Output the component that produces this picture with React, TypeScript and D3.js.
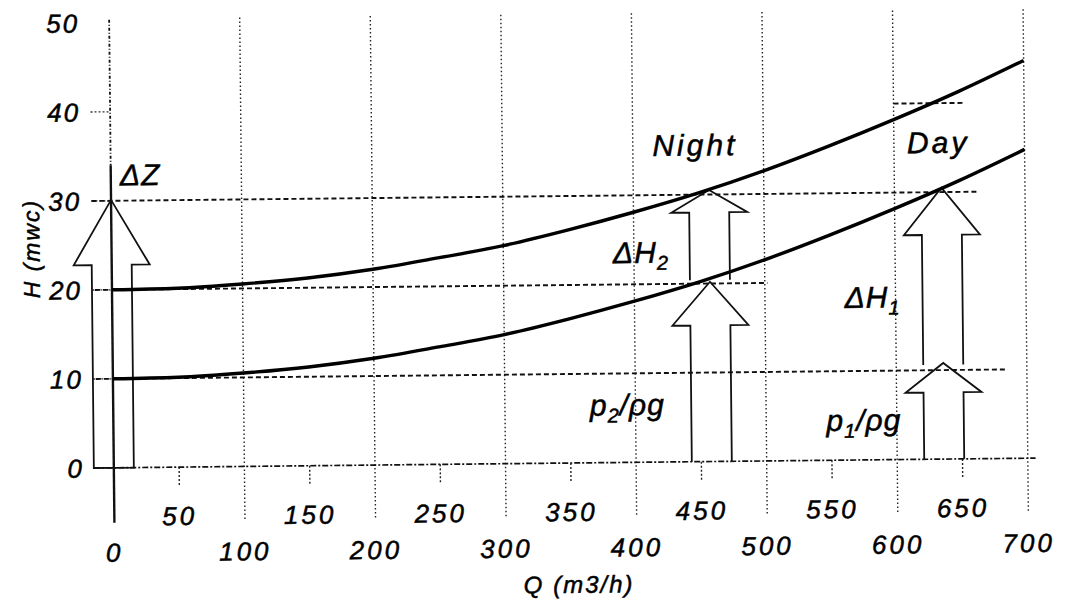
import React from 'react';
import * as d3 from 'd3';

// flow (m3/h) and head (mwc)
const flows = [0, 50, 100, 150, 200, 250, 300, 350, 400, 450, 500, 550, 600, 650, 700];
const headUpper = [20, 20.1, 20.5, 21.1, 22.0, 23.2, 24.5, 26.2, 28.1, 30.2, 32.6, 35.3, 38.2, 41.3, 44.7];
const headLower = [10, 10.1, 10.5, 11.1, 12.0, 13.2, 14.5, 16.2, 18.1, 20.2, 22.6, 25.3, 28.2, 31.3, 34.7];

const majorTicks = [0, 100, 200, 300, 400, 500, 600, 700];
const minorTicks = [50, 150, 250, 350, 450, 550, 650];
const yTicks = [0, 10, 20, 30, 40, 50];

// block arrows: centre flow, start head, tip head, head-base head
const arrows = [
  { q: 0, from: 0, to: 30.1, head: 22.8, closed: true },
  { q: 458, from: 0, to: 20.2, head: 15.3, closed: false },
  { q: 458, from: 20.4, to: 30.5, head: 28.0, closed: false },
  { q: 636, from: 0, to: 10.8, head: 7.5, closed: false },
  { q: 636, from: 10.6, to: 30.5, head: 25.2, closed: false },
];

// dashed reference levels: head, flow range
const levels = [
  { h: 30, q0: -15, q1: 663 },
  { h: 20, q0: -13, q1: 502 },
  { h: 10, q0: -13, q1: 684 },
  { h: 40, q0: 600, q1: 655 },
];

const FONT = '"Liberation Sans", Arial, sans-serif';
const INK = '#111';

export default function App() {
  const x = d3.scaleLinear().domain([0, 700]).range([112, 1026]);
  const y = d3.scaleLinear().domain([0, 50]).range([463, 18]);
  const y0 = y(0);

  const line = d3.line<number>()
    .x((_, i) => x(flows[i]))
    .y(d => y(d))
    .curve(d3.curveMonotoneX);

  const arrowPath = (a: typeof arrows[0]) => {
    const cx = x(a.q);
    const sh = 20;
    const hh = 38;
    const pts: [number, number][] = [
      [cx - sh, y(a.from)],
      [cx - sh, y(a.head)],
      [cx - hh, y(a.head)],
      [cx, y(a.to)],
      [cx + hh, y(a.head)],
      [cx + sh, y(a.head)],
      [cx + sh, y(a.from)],
    ];
    return d3.line()(pts) + (a.closed ? 'Z' : '');
  };

  const textStyle = {
    fontFamily: FONT,
    fontStyle: 'italic' as const,
    fill: '#000',
    stroke: '#000',
    strokeWidth: 0.5,
  };

  return (
    <svg
      width={1070}
      height={601}
      style={{ position: 'absolute', left: 0, top: 0, background: '#fff' }}
    >
      <rect width={1070} height={601} fill="#fff" />
      <g transform="rotate(-0.6 570 290)">
        {/* vertical grid */}
        {majorTicks.filter(t => t > 0).map(t => (
          <line key={'g' + t} x1={x(t)} x2={x(t)} y1={14} y2={y0 + 54}
            stroke="#222" strokeWidth={1.4} strokeDasharray="1.5 2.5" />
        ))}
        {/* y axis */}
        <line x1={x(0)} x2={x(0)} y1={15} y2={y(34)} stroke={INK} strokeWidth={1.8} strokeDasharray="3 2 1 2" />
        <line x1={x(0)} x2={x(0)} y1={y(34)} y2={y0 + 55} stroke={INK} strokeWidth={2.4} />

        {/* minor ticks */}
        {minorTicks.map(t => (
          <line key={'m' + t} x1={x(t)} x2={x(t)} y1={y0} y2={y0 + 18}
            stroke="#222" strokeWidth={1.4} strokeDasharray="2 2" />
        ))}
        {/* small y ticks */}
        {yTicks.filter(t => t > 0 && t < 50).map(t => (
          <line key={'yt' + t} x1={x(-15)} x2={x(0)} y1={y(t)} y2={y(t)}
            stroke="#333" strokeWidth={1.3} strokeDasharray="2 2" />
        ))}

        {/* x axis */}
        <line x1={x(-15)} x2={x(706)} y1={y0} y2={y0} stroke={INK} strokeWidth={1.7} strokeDasharray="6 2 2 2" />

        {/* reference levels */}
        {levels.map((l, i) => (
          <line key={'l' + i} x1={x(l.q0)} x2={x(l.q1)} y1={y(l.h)} y2={y(l.h)}
            stroke={INK} strokeWidth={1.9} strokeDasharray="5 3" />
        ))}

        {/* arrows */}
        {arrows.map((a, i) => (
          <path key={'a' + i} d={arrowPath(a)} fill="none" stroke={INK} strokeWidth={1.8} />
        ))}

        {/* system curves */}
        <path d={line(headUpper) || ''} fill="none" stroke="#000" strokeWidth={3.4} />
        <path d={line(headLower) || ''} fill="none" stroke="#000" strokeWidth={3.4} />

        {/* tick labels */}
        {yTicks.map(t => (
          <text key={'yl' + t} x={x(0) - 30} y={y(t)} dy="0.36em" textAnchor="end"
            fontSize={26} letterSpacing={2} style={textStyle}>{t}</text>
        ))}
        {majorTicks.map(t => (
          <text key={'xl' + t} x={x(t)} y={y0 + 94} textAnchor="middle"
            fontSize={26} letterSpacing={3} style={textStyle}>{t}</text>
        ))}
        {minorTicks.map(t => (
          <text key={'xm' + t} x={x(t)} y={y0 + 58} textAnchor="middle"
            fontSize={26} letterSpacing={3} style={textStyle}>{t}</text>
        ))}

        {/* axis titles */}
        <text x={576} y={593} textAnchor="middle" fontSize={24} letterSpacing={2} style={textStyle}>Q (m3/h)</text>
        <text transform="translate(40,243) rotate(-90)" textAnchor="middle" fontSize={23} letterSpacing={2} style={textStyle}>H (mwc)</text>

        {/* annotations */}
        <text x={x(7)} y={y(31.7)} fontSize={30} letterSpacing={1} style={textStyle}>ΔZ</text>
        <text x={x(415)} y={y(34.4)} fontSize={30} letterSpacing={3} style={textStyle}>Night</text>
        <text x={x(610)} y={y(34.4)} fontSize={30} letterSpacing={3} style={textStyle}>Day</text>
        <text x={x(384)} y={y(22.4)} fontSize={30} letterSpacing={1} style={textStyle}>
          ΔH<tspan fontSize={20} dy={7}>2</tspan>
        </text>
        <text x={x(561)} y={y(17.1)} fontSize={30} letterSpacing={1} style={textStyle}>
          ΔH<tspan fontSize={20} dy={7}>1</tspan>
        </text>
        <text x={x(365)} y={y(5.3)} fontSize={30} letterSpacing={1} style={textStyle}>
          p<tspan fontSize={20} dy={7}>2</tspan><tspan dy={-7}>/ρg</tspan>
        </text>
        <text x={x(546)} y={y(3.3)} fontSize={30} letterSpacing={1} style={textStyle}>
          p<tspan fontSize={20} dy={7}>1</tspan><tspan dy={-7}>/ρg</tspan>
        </text>
      </g>
    </svg>
  );
}
